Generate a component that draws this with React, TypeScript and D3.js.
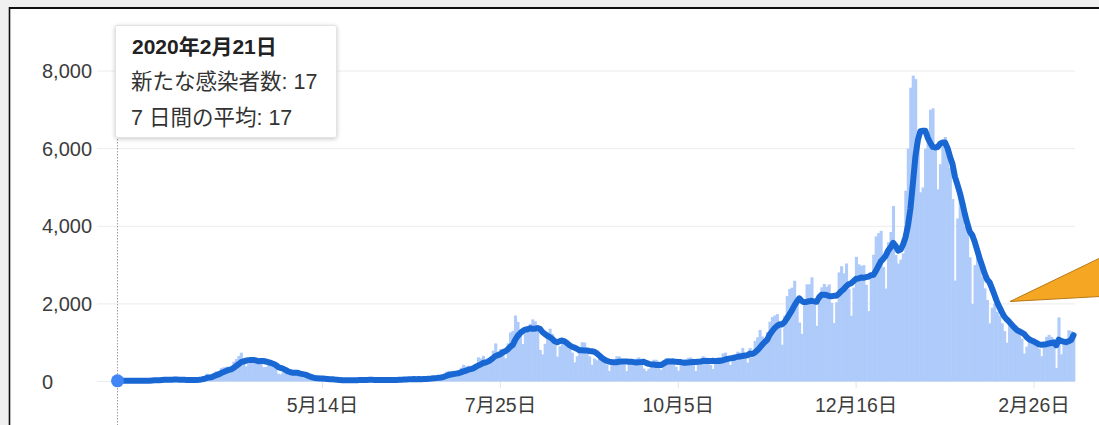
import React from "react";
import * as d3 from "d3";

// Daily new cases in Japan, starting 2020-02-21 (one value per day)
const feb2020 = [17, 12, 27, 12, 13, 19, 25, 17, 15];
const mar2020 = [15, 16, 14, 33, 32, 59, 47, 33, 26, 59, 54, 52, 55, 41, 64, 15, 44, 39, 39, 35, 53, 40, 40, 41, 71, 96, 112, 200, 173, 86, 225];
const apr2020 = [266, 235, 351, 367, 383, 252, 351, 511, 579, 658, 743, 513, 390, 457, 549, 587, 576, 584, 570, 369, 374, 438, 438, 431, 376, 201, 186, 256, 218, 166];
const may2020 = [260, 294, 203, 175, 123, 96, 86, 86, 106, 59, 51, 86, 55, 99, 55, 57, 18, 30, 31, 36, 27, 31, 40, 27, 21, 21, 40, 55, 50, 36, 47];
const jun2020 = [35, 41, 47, 35, 44, 38, 48, 14, 38, 32, 41, 61, 47, 72, 39, 73, 41, 68, 69, 71, 57, 52, 43, 96, 78, 105, 92, 110, 86, 127];
const jul2020 = [127, 195, 251, 275, 206, 160, 207, 192, 355, 430, 386, 408, 260, 333, 453, 622, 595, 660, 511, 420, 631, 795, 981, 766, 837, 844, 598, 984, 1264, 1303, 1700];
const aug2020 = [1536, 1331, 964, 1241, 1355, 1485, 1600, 1550, 1442, 814, 699, 970, 1176, 1359, 1227, 1008, 638, 908, 1074, 1032, 1023, 850, 745, 493, 653, 842, 1011, 1003, 858, 647, 430];
const sep2020 = [590, 547, 630, 576, 540, 434, 270, 509, 510, 648, 648, 569, 437, 269, 483, 509, 580, 593, 621, 457, 333, 269, 331, 480, 560, 560, 468, 304, 517, 606];
const oct2020 = [602, 570, 566, 383, 279, 498, 500, 580, 610, 620, 430, 270, 560, 551, 650, 620, 600, 426, 322, 508, 612, 631, 723, 743, 531, 426, 573, 701, 768, 745, 863];
const nov2020 = [609, 486, 864, 620, 1046, 1139, 1328, 1159, 958, 1278, 1541, 1661, 1701, 1735, 1433, 948, 1695, 2201, 2386, 2418, 2596, 2168, 1520, 1227, 1945, 2504, 2504, 2684, 2068, 1435];
const dec2020 = [2029, 2427, 2513, 2442, 2501, 2029, 1507, 2040, 2811, 2971, 2788, 3041, 2392, 1693, 2420, 3211, 3020, 2979, 2998, 2492, 1813, 2660, 3266, 3740, 3823, 3881, 2948, 2395, 3592, 3852, 4520];
const jan2021 = [3259, 3038, 3139, 3303, 4915, 6001, 7570, 7882, 7790, 6094, 4876, 5000, 6000, 6300, 7000, 7038, 6000, 4950, 5600, 6200, 6300, 6000, 5500, 4700, 2600, 4200, 4700, 4500, 4000, 3800, 3200];
const feb2021 = [2000, 3000, 3200, 3000, 2700, 2400, 2100, 1500, 1900, 2000, 1800, 1700, 1500, 1300, 1000, 1450, 1500, 1300, 1250, 1250, 1100, 720, 900, 1100, 1080, 1050, 1000, 850];
const mar2021 = [650, 950, 1150, 1200, 1150, 1100, 350, 1650, 700, 1050, 1100, 1320, 1300, 1250];

const startDate = "2020-02-21";
const yTicks = [0, 2000, 4000, 6000, 8000];
const xTickDates = ["2020-05-14", "2020-07-25", "2020-10-05", "2020-12-16", "2021-02-26"];

const tooltipTitle = "2020年2月21日";
const tooltipCasesLabel = "新たな感染者数";
const tooltipAvgLabel = "7 日間の平均";

const FONT = "'Liberation Sans', Arial, 'Noto Sans CJK JP', sans-serif";

export default function App() {
  const W = 1099, H = 425;
  const cases = [
    ...feb2020, ...mar2020, ...apr2020, ...may2020, ...jun2020, ...jul2020,
    ...aug2020, ...sep2020, ...oct2020, ...nov2020, ...dec2020, ...jan2021,
    ...feb2021, ...mar2021,
  ];
  const parse = d3.utcParse("%Y-%m-%d");
  const t0 = parse(startDate)!;
  const data = cases.map((v, i) => ({
    date: d3.utcDay.offset(t0, i),
    value: v,
    avg: d3.mean(cases.slice(Math.max(0, i - 6), i + 1)) as number,
  }));

  const x = d3.scaleUtc()
    .domain([t0, parse("2021-02-26")!])
    .range([117.5, 1034]);
  const y = d3.scaleLinear().domain([0, 8000]).range([381.5, 71]);
  const dayW = x(d3.utcDay.offset(t0, 1)) - x(t0);

  const line = d3.line<any>()
    .x(d => x(d.date))
    .y(d => y(d.avg));

  const fmtY = d3.format(",");
  const fmtX = d3.utcFormat("%-m月%-d日");
  const first = data[0];

  return (
    <svg width={W} height={H} style={{ position: "absolute", left: 0, top: 0, display: "block" }} fontFamily={FONT}>
      <defs>
        <filter id="shadow" x="-10%" y="-10%" width="120%" height="130%">
          <feDropShadow dx="0" dy="1" stdDeviation="2" floodColor="#000" floodOpacity="0.22" />
        </filter>
      </defs>
      <rect x={0} y={0} width={W} height={H} fill="#f0f0f0" />
      <rect x={10} y={9} width={W} height={H} fill="#ffffff" />

      {/* gridlines */}
      {yTicks.map(t => (
        <line key={t} x1={97} x2={1075} y1={y(t)} y2={y(t)} stroke="#ececec" strokeWidth={1} />
      ))}

      {/* bars */}
      <g fill="#aecbfa">
        {data.map((d, i) => (
          <rect key={i} x={x(d.date) - dayW / 2} width={dayW + 0.6} y={y(d.value)} height={y(0) - y(d.value)} />
        ))}
      </g>

      {/* x ticks */}
      {xTickDates.map(s => {
        const dt = parse(s)!;
        return (
          <g key={s}>
            <line x1={x(dt)} x2={x(dt)} y1={382} y2={388} stroke="#e4e4e4" />
            <text x={x(dt)} y={412} textAnchor="middle" fontSize={19.5} fill="#3c3c3c">{fmtX(dt)}</text>
          </g>
        );
      })}

      {/* y labels */}
      {yTicks.map(t => (
        <text key={t} x={42} y={y(t)} dy="0.35em" fontSize={20} fill="#3c3c3c">{fmtY(t)}</text>
      ))}

      {/* 7-day average line */}
      <path d={line(data) || ""} fill="none" stroke="#1967d2" strokeWidth={6} strokeLinejoin="round" strokeLinecap="round" />

      {/* hover marker */}
      <line x1={x(first.date)} x2={x(first.date)} y1={25} y2={H} stroke="#9e9e9e" strokeWidth={1} strokeDasharray="1.5,1.5" />
      <circle cx={x(first.date)} cy={y(first.avg)} r={6.5} fill="#4285f4" />

      {/* tooltip */}
      <g>
        <rect x={115.5} y={25.5} width={221} height={112} rx={2} fill="#fff" stroke="#e3e3e3" filter="url(#shadow)" />
        <text x={132} y={54} fontSize={21} fontWeight="bold" fill="#222">{tooltipTitle}</text>
        <text x={131} y={89} fontSize={21.5} fill="#333">{`${tooltipCasesLabel}: ${first.value}`}</text>
        <text x={131} y={125} fontSize={21.5} fill="#333">{`${tooltipAvgLabel}: ${Math.round(first.avg)}`}</text>
      </g>

      {/* orange callout pointer */}
      <polygon points="1010,301.5 1100,258 1100,296.5" fill="#f5a623" stroke="#b87a16" strokeWidth={1} />

      {/* frame */}
      <line x1={9} x2={W} y1={8} y2={8} stroke="#111" strokeWidth={2} />
      <line x1={9.5} x2={9.5} y1={7} y2={H} stroke="#111" strokeWidth={1.6} />
    </svg>
  );
}
